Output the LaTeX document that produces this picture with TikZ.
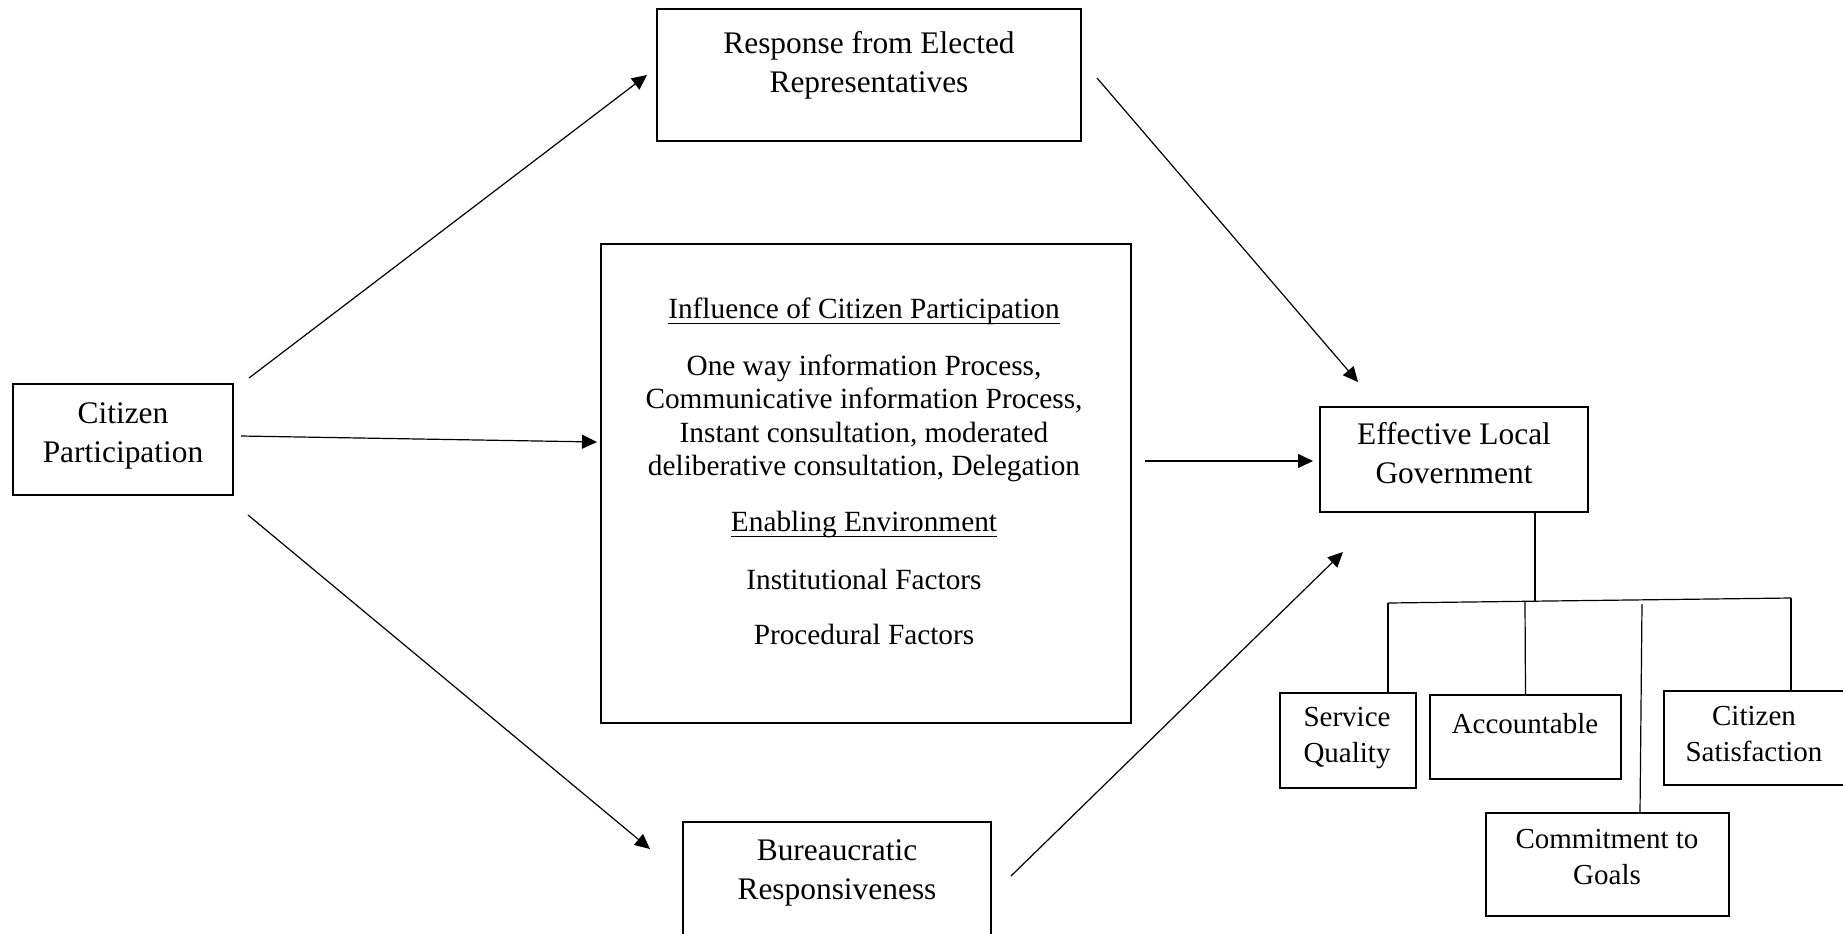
\documentclass[tikz,border=0pt]{standalone}
\usepackage{fontspec}
\setmainfont{Liberation Serif}
\usetikzlibrary{arrows.meta,fit}
\newcommand\myul[2]{\setbox0\hbox{#2}\rlap{\rule[-#1]{\wd0}{0.9pt}}\box0}
\newcommand\mylines[1]{\begin{tabular}[t]{@{}c@{}}#1\end{tabular}}
\begin{document}
\begin{tikzpicture}[x=0.5pt,y=-0.5pt,
 box/.style={draw, line width=0.6pt, inner sep=0pt, outer sep=0pt},
 arr/.style={line width=0.6pt, -{Triangle[length=7.5pt,width=7pt]}},
 ln/.style={line width=0.6pt},
 txt/.style={anchor=base, inner sep=0pt, font=\fontsize{15.7}{19.5}\selectfont},
 mtxt/.style={anchor=base, inner sep=0pt, font=\fontsize{14.65}{16.75}\selectfont},
 stxt/.style={anchor=base, inner sep=0pt, font=\fontsize{14.5}{18}\selectfont}]
\useasboundingbox (0,0) rectangle (1843,933);

% boxes
\node[box, fit={(13,384) (233,495)}] (cp) {};
\node[box, fit={(657,9) (1081,141)}] (resp) {};
\node[box, fit={(601,244) (1131,723)}] (infl) {};
\node[box, fit={(1320,407) (1588,512)}] (elg) {};
\node[box, fit={(683,822) (991,945)}] (bur) {};
\node[box, fit={(1280,693) (1416,788)}] (sq) {};
\node[box, fit={(1430,695) (1621,779)}] (acc) {};
\node[box, fit={(1486,813) (1729,916)}] (cg) {};
\node[box, fit={(1664,691) (1852,785)}] (cs) {};

% texts
\node[txt] (cpt) at (123,423) {\mylines{Citizen\\Participation}};
\node[txt] (respt) at (869,53) {\mylines{Response from Elected\\Representatives}};
\node[mtxt] (inflh) at (864,318) {\myul{3.2pt}{Influence of Citizen Participation}};
\node[mtxt] (infll) at (864,375) {\mylines{One way information Process,\\Communicative information Process,\\Instant consultation, moderated\\deliberative consultation, Delegation}};
\node[mtxt] (infle) at (864,531) {\myul{3.2pt}{Enabling Environment}};
\node[mtxt] (infli) at (864,589) {Institutional Factors};
\node[mtxt] (inflp) at (864,644) {Procedural Factors};
\node[txt] (elgt) at (1454,444) {\mylines{Effective Local\\Government}};
\node[txt] (burt) at (837,860) {\mylines{Bureaucratic\\Responsiveness}};
\node[stxt] (sqt) at (1347,726) {\mylines{Service\\Quality}};
\node[stxt] (acct) at (1525,733) {Accountable};
\node[stxt] (cst) at (1754,725) {\mylines{Citizen\\Satisfaction}};
\node[stxt] (cgt) at (1607,848) {\mylines{Commitment to\\Goals}};

% arrow end points
\coordinate (a1s) at (249,378);  \coordinate (a1e) at (647,75);
\coordinate (a2s) at (241,436);  \coordinate (a2e) at (597,442);
\coordinate (a3s) at (248,515);  \coordinate (a3e) at (650,849);
\coordinate (a4s) at (1097,78);  \coordinate (a4e) at (1358,382);
\coordinate (a5s) at (1145,461); \coordinate (a5e) at (1313,461);
\coordinate (a6s) at (1011,876); \coordinate (a6e) at (1343,552);

\draw[arr] (a1s) -- (a1e);
\draw[arr] (a2s) -- (a2e);
\draw[arr] (a3s) -- (a3e);
\draw[arr] (a4s) -- (a4e);
\draw[arr] (a5s) -- (a5e);
\draw[arr] (a6s) -- (a6e);

% tree
\coordinate (busL) at (1388,603);
\coordinate (busR) at (1791,598);
\coordinate (busM) at (1535,601);
\coordinate (accT) at (1525,602);
\coordinate (cgT) at (1642,604);
\coordinate (cgB) at (1640,813);
\draw[ln] (busM |- elg.south) -- (busM);
\draw[ln] (busL) -- (busR);
\draw[ln] (busL) -- (busL |- sq.north);
\draw[ln] (accT) -- (acc.north);
\draw[ln] (cgT) -- (cgB |- cg.north);
\draw[ln] (busR) -- (busR |- cs.north);
\end{tikzpicture}
\end{document}
